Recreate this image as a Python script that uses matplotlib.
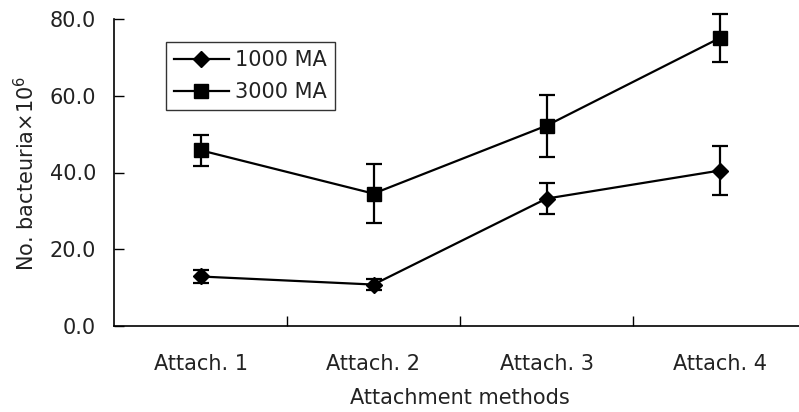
import matplotlib
matplotlib.use("Agg")
import matplotlib.pyplot as plt
from matplotlib.lines import Line2D
import numpy as np

categories = ["Attach. 1", "Attach. 2", "Attach. 3", "Attach. 4"]
ma1000 = [12.9, 10.8, 33.2, 40.5]
ma1000_err = [1.6, 1.5, 4.1, 6.4]
ma3000 = [45.8, 34.5, 52.2, 75.0]
ma3000_err = [4.1, 7.6, 8.1, 6.3]
yticks = [0.0, 20.0, 40.0, 60.0, 80.0]

plt.rcParams['font.family'] = ['DejaVu Sans']
fs = 15
tc = '#222222'

W, H = 799, 412
fig = plt.figure(figsize=(W/100, H/100), dpi=100)
left, right_px, top_px, bottom_px = 114, 114 + 692, 19, 326
ax = fig.add_axes([left/W, (H-bottom_px)/H, (right_px-left)/W, (bottom_px-top_px)/H])

x = np.arange(len(categories))
for vals, errs, mk, ms in [(ma1000, ma1000_err, 'D', 8), (ma3000, ma3000_err, 's', 9.5)]:
    eb = ax.errorbar(x, vals, yerr=errs, color='black', marker=mk, markersize=ms,
                     linewidth=1.6, capsize=6, capthick=1.6, elinewidth=1.6)
    for artist in eb.lines[1] + eb.lines[2]:
        artist.set_clip_on(False)
    eb.lines[0].set_clip_on(False)

ax.set_xlim(-0.5, len(categories) - 0.5)
ax.set_ylim(0, 80)
ax.spines['top'].set_visible(False)
ax.spines['right'].set_visible(False)
ax.spines['left'].set_linewidth(1.2)
ax.spines['bottom'].set_linewidth(1.2)

ax.set_yticks(yticks)
ax.set_yticklabels([f"{v:.1f}" for v in yticks], fontsize=fs, color=tc)
ax.tick_params(axis='y', direction='in', length=7, width=1, pad=13)

ax.set_xticks(x[:-1] + 0.5)
ax.set_xticklabels([])
ax.tick_params(axis='x', which='major', direction='in', length=7, width=1)
ax.set_xticks(x, minor=True)
ax.set_xticklabels(categories, minor=True, fontsize=fs, color=tc)
ax.tick_params(axis='x', which='minor', length=0, pad=20)

fig.text(left/W + (right_px-left)/W/2, 1 - 398/H, "Attachment methods", ha='center', va='center',
         fontsize=fs, color=tc)
fig.text(26/W, 1 - 173/H, "No. bacteuria×10$^{6}$", rotation=90, ha='center', va='center',
         fontsize=fs, color=tc)

h1 = Line2D([], [], color='black', marker='D', markersize=8, linewidth=1.6)
h2 = Line2D([], [], color='black', marker='s', markersize=9.5, linewidth=1.6)
leg = fig.legend(handles=[h1, h2], labels=['1000 MA', '3000 MA'], loc='upper left',
                 bbox_to_anchor=(166/W, 1 - 42/H), fontsize=fs, frameon=True, fancybox=False,
                 handlelength=2.6, handletextpad=0.3, borderpad=0.4, labelspacing=0.55,
                 borderaxespad=0, edgecolor='black')
leg.get_frame().set_linewidth(1.0)
for t in leg.get_texts():
    t.set_color(tc)

fig.savefig("out.png", dpi=100)
